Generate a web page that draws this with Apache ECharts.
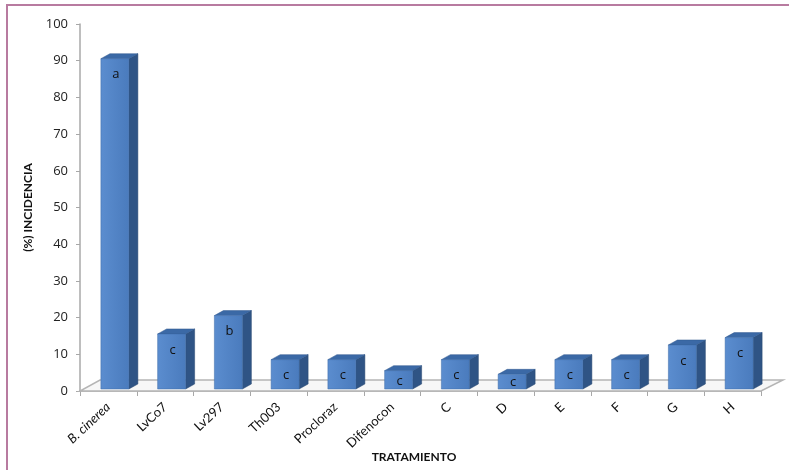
<!DOCTYPE html>
<html>
<head>
<meta charset="utf-8">
<script src="https://cdn.jsdelivr.net/npm/echarts@6/dist/echarts.min.js"></script>
<style>
html,body{margin:0;padding:0;background:#ffffff;}
#c{width:789px;height:470px;}
</style>
</head>
<body>
<div id="c"></div>
<script>
const categories = ['B. cinerea','LvCo7','Lv297','Th003','Procloraz','Difenocon','C','D','E','F','G','H'];
const incidence = [90,15,20,8,8,5,8,4,8,8,12,14];
const letters = ['a','c','b','c','c','c','c','c','c','c','c','c'];
const yTicks = [0,10,20,30,40,50,60,70,80,90,100];
const xTitle = 'TRATAMIENTO';
const yTitle = '(%) INCIDENCIA';

const chart = echarts.init(document.getElementById('c'));

const FRONT_W = 28, FRONT_OFF = -7.5, DEPTH_X = 9, DEPTH_Y = 5, LIFT = 2;

function renderBar(params, api) {
  const i = api.value(0), v = api.value(1);
  const b = api.coord([i, 0]);
  const t = api.coord([i, v]);
  const x0 = b[0] + FRONT_OFF, x1 = x0 + FRONT_W;
  const yb = b[1] - LIFT, yt = t[1] - LIFT;
  const h = yb - yt;
  const ly = yt + Math.min(16, h / 2 + 1);
  return {
    type: 'group',
    children: [
      { type: 'polygon', shape: { points: [[x1, yt],[x1 + DEPTH_X, yt - DEPTH_Y],[x1 + DEPTH_X, yb - DEPTH_Y],[x1, yb]] },
        style: { fill: '#2f5485', stroke: '#27476f', lineWidth: 0.5 } },
      { type: 'polygon', shape: { points: [[x0, yt],[x0 + DEPTH_X, yt - DEPTH_Y],[x1 + DEPTH_X, yt - DEPTH_Y],[x1, yt]] },
        style: { fill: '#3b69a6', stroke: '#30598e', lineWidth: 0.5 } },
      { type: 'rect', shape: { x: x0, y: yt, width: FRONT_W, height: h },
        style: { fill: new echarts.graphic.LinearGradient(0,0,1,0,[{offset:0,color:'#5b8dcf'},{offset:1,color:'#4a7bbd'}]), stroke: '#3f6ca8', lineWidth: 0.5 } },
      { type: 'text', style: { text: letters[i], x: (x0 + x1) / 2 + 1, y: ly, align: 'center', verticalAlign: 'middle',
        fill: '#111', font: '13px "Open Sans", sans-serif' } }
    ]
  };
}

function renderFloor(params, api) {
  const cs = params.coordSys;
  const yb = cs.y + cs.height;
  const xl = cs.x, xr = cs.x + cs.width;
  return {
    type: 'polygon',
    shape: { points: [[xl, yb],[xr, yb],[xr + 22, yb - 11],[xl + 20, yb - 11]] },
    style: { fill: '#f7f7f7', stroke: '#b5b5b5', lineWidth: 1.5 }
  };
}

chart.setOption({
  animation: false,
  backgroundColor: '#ffffff',
  graphic: [
    { type: 'rect', shape: { x: 6, y: 4, width: 783, height: 2 }, style: { fill: '#b87ba0' } },
    { type: 'rect', shape: { x: 6, y: 4, width: 2, height: 466 }, style: { fill: '#b87ba0' } },
    { type: 'text', x: 414, y: 457, style: { text: xTitle, align: 'center', verticalAlign: 'middle',
      font: 'bold 12px Lato', fill: '#111' } }
  ],
  grid: { left: 80, right: 28, top: 24, bottom: 79, containLabel: false, outerBoundsMode: 'none' },
  xAxis: {
    type: 'category',
    data: categories,
    boundaryGap: true,
    axisLine: { show: true, lineStyle: { color: '#a8a8a8', width: 1.5 } },
    axisTick: { show: true, alignWithLabel: false, length: 5, lineStyle: { color: '#a8a8a8' } },
    axisLabel: {
      rotate: 43, margin: 14, interval: 0, color: '#111', fontFamily: 'Lato', fontSize: 13,
      formatter: function (v) { return v === 'B. cinerea' ? '{it|' + v + '}' : v; },
      rich: { it: { fontStyle: 'italic', fontFamily: 'Lato', fontSize: 13, color: '#111' } }
    },
    splitLine: { show: false }
  },
  yAxis: {
    type: 'value',
    min: yTicks[0],
    max: yTicks[yTicks.length - 1],
    interval: yTicks[1] - yTicks[0],
    name: yTitle,
    nameLocation: 'middle',
    nameGap: 46,
    nameRotate: 90,
    nameTextStyle: { fontFamily: 'Lato', fontWeight: 'bold', fontSize: 12, color: '#111' },
    axisLine: { show: true, lineStyle: { color: '#a8a8a8', width: 1.5 } },
    axisTick: { show: true, length: 4, lineStyle: { color: '#a8a8a8' } },
    axisLabel: { color: '#222', fontFamily: 'Open Sans', fontSize: 13, margin: 12 },
    splitLine: { show: false }
  },
  series: [
    { type: 'custom', renderItem: renderFloor, data: [[0, 0]], z: 1, silent: true },
    { type: 'custom', renderItem: renderBar, data: incidence.map((v, i) => [i, v]), z: 5,
      encode: { x: 0, y: 1 } }
  ]
});
</script>
</body>
</html>
